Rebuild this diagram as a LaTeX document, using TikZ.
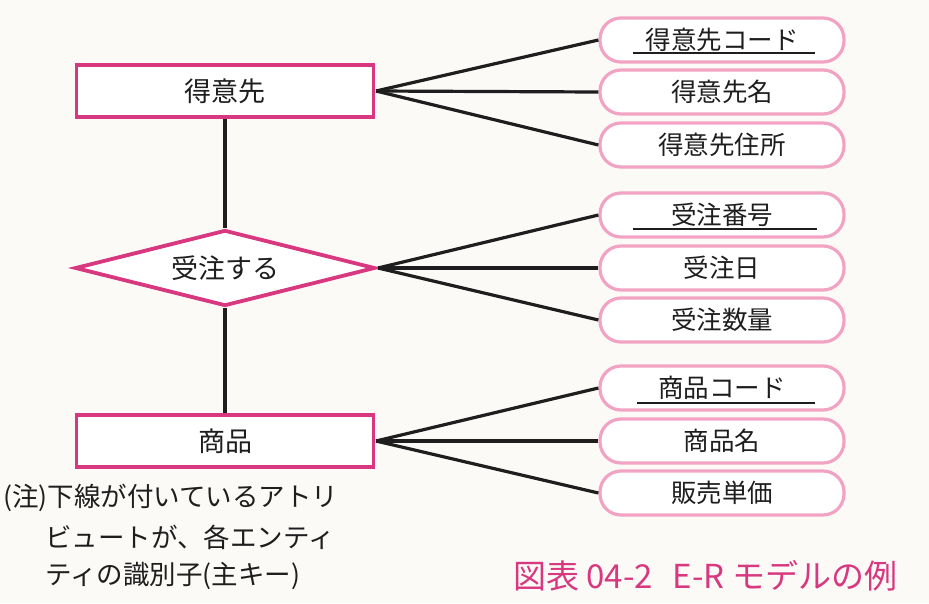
\documentclass[tikz,border=0pt]{standalone}
\usepackage{fontspec}
\setmainfont{Noto Sans CJK JP}
\usetikzlibrary{shapes.geometric,calc}
\definecolor{entmag}{HTML}{D8387F}
\definecolor{attpink}{HTML}{F2A3C3}
\definecolor{linegray}{HTML}{1E1E1E}
\definecolor{paper}{HTML}{FBFAF7}
\begin{document}
\begin{tikzpicture}[x=1pt,y=-1pt,
  entity/.style={draw=entmag,line width=3.8pt,fill=white,minimum width=297pt,minimum height=52pt,inner sep=0pt,font=\fontsize{27}{32}\selectfont,text=linegray},
  relbox/.style={draw=entmag,line width=3.8pt,fill=white,shape=diamond,aspect=4,minimum width=300pt,minimum height=76pt,inner sep=0pt,font=\fontsize{27}{32}\selectfont,text=linegray},
  attr/.style={draw=attpink,line width=3.2pt,fill=white,rounded corners=21pt,minimum width=244pt,minimum height=44pt,inner sep=0pt,font=\fontsize{25.5}{30}\selectfont,text=linegray},
  conn/.style={draw=linegray,line width=3.2pt},
  ul/.style={draw=linegray,line width=1.6pt},
  note/.style={anchor=west,inner sep=0pt,font=\fontsize{26.5}{30}\selectfont,text=linegray}]
\useasboundingbox[fill=paper] (0,0) rectangle (929,603);
% entities
\node[entity] (tok) at (225,91) {得意先};
\node[relbox] (jut) at (225,268) {受注する};
\node[entity] (sho) at (225,441) {商品};
\draw[conn] (tok.south) -- (jut.north);
\draw[conn] (jut.south) -- (sho.north);
% attributes
\node[attr] (a1) at (722,40) {得意先コード};
\node[attr] (a2) at (722,92) {得意先名};
\node[attr] (a3) at (722,145) {得意先住所};
\node[attr] (b1) at (722,215) {受注番号};
\node[attr] (b2) at (722,268) {受注日};
\node[attr] (b3) at (722,320) {受注数量};
\node[attr] (c1) at (722,388) {商品コード};
\node[attr] (c2) at (722,441) {商品名};
\node[attr] (c3) at (722,493) {販売単価};
% underlines
\draw[ul] ($(a1.center)+(-89,13)$) -- ($(a1.center)+(93,13)$);
\draw[ul] ($(b1.center)+(-89,14)$) -- ($(b1.center)+(95,14)$);
\draw[ul] ($(c1.center)+(-85,15)$) -- ($(c1.center)+(93,15)$);
% crow's feet
\coordinate (ft) at (376,91);
\coordinate (fj) at (378,268);
\coordinate (fs) at (376,441);
\foreach \t in {a1,a2,a3} \draw[conn] (ft) -- (\t.west);
\foreach \t in {b1,b2,b3} \draw[conn] (fj) -- (\t.west);
\foreach \t in {c1,c2,c3} \draw[conn] (fs) -- (\t.west);
% note
\node[note] (n1) at (3,498) {(注)下線が付いているアトリ};
\node[note] (n2) at (45,537) {ビュートが、各エンティ};
\node[note] (n3) at (45,576) {ティの識別子(主キー)};
% caption
\node[anchor=west,inner sep=0pt,text=entmag,font=\fontsize{33}{38}\selectfont] (cap) at (513,576) {図表 04-2\hspace{0.6em}E-R モデルの例};
\end{tikzpicture}
\end{document}
